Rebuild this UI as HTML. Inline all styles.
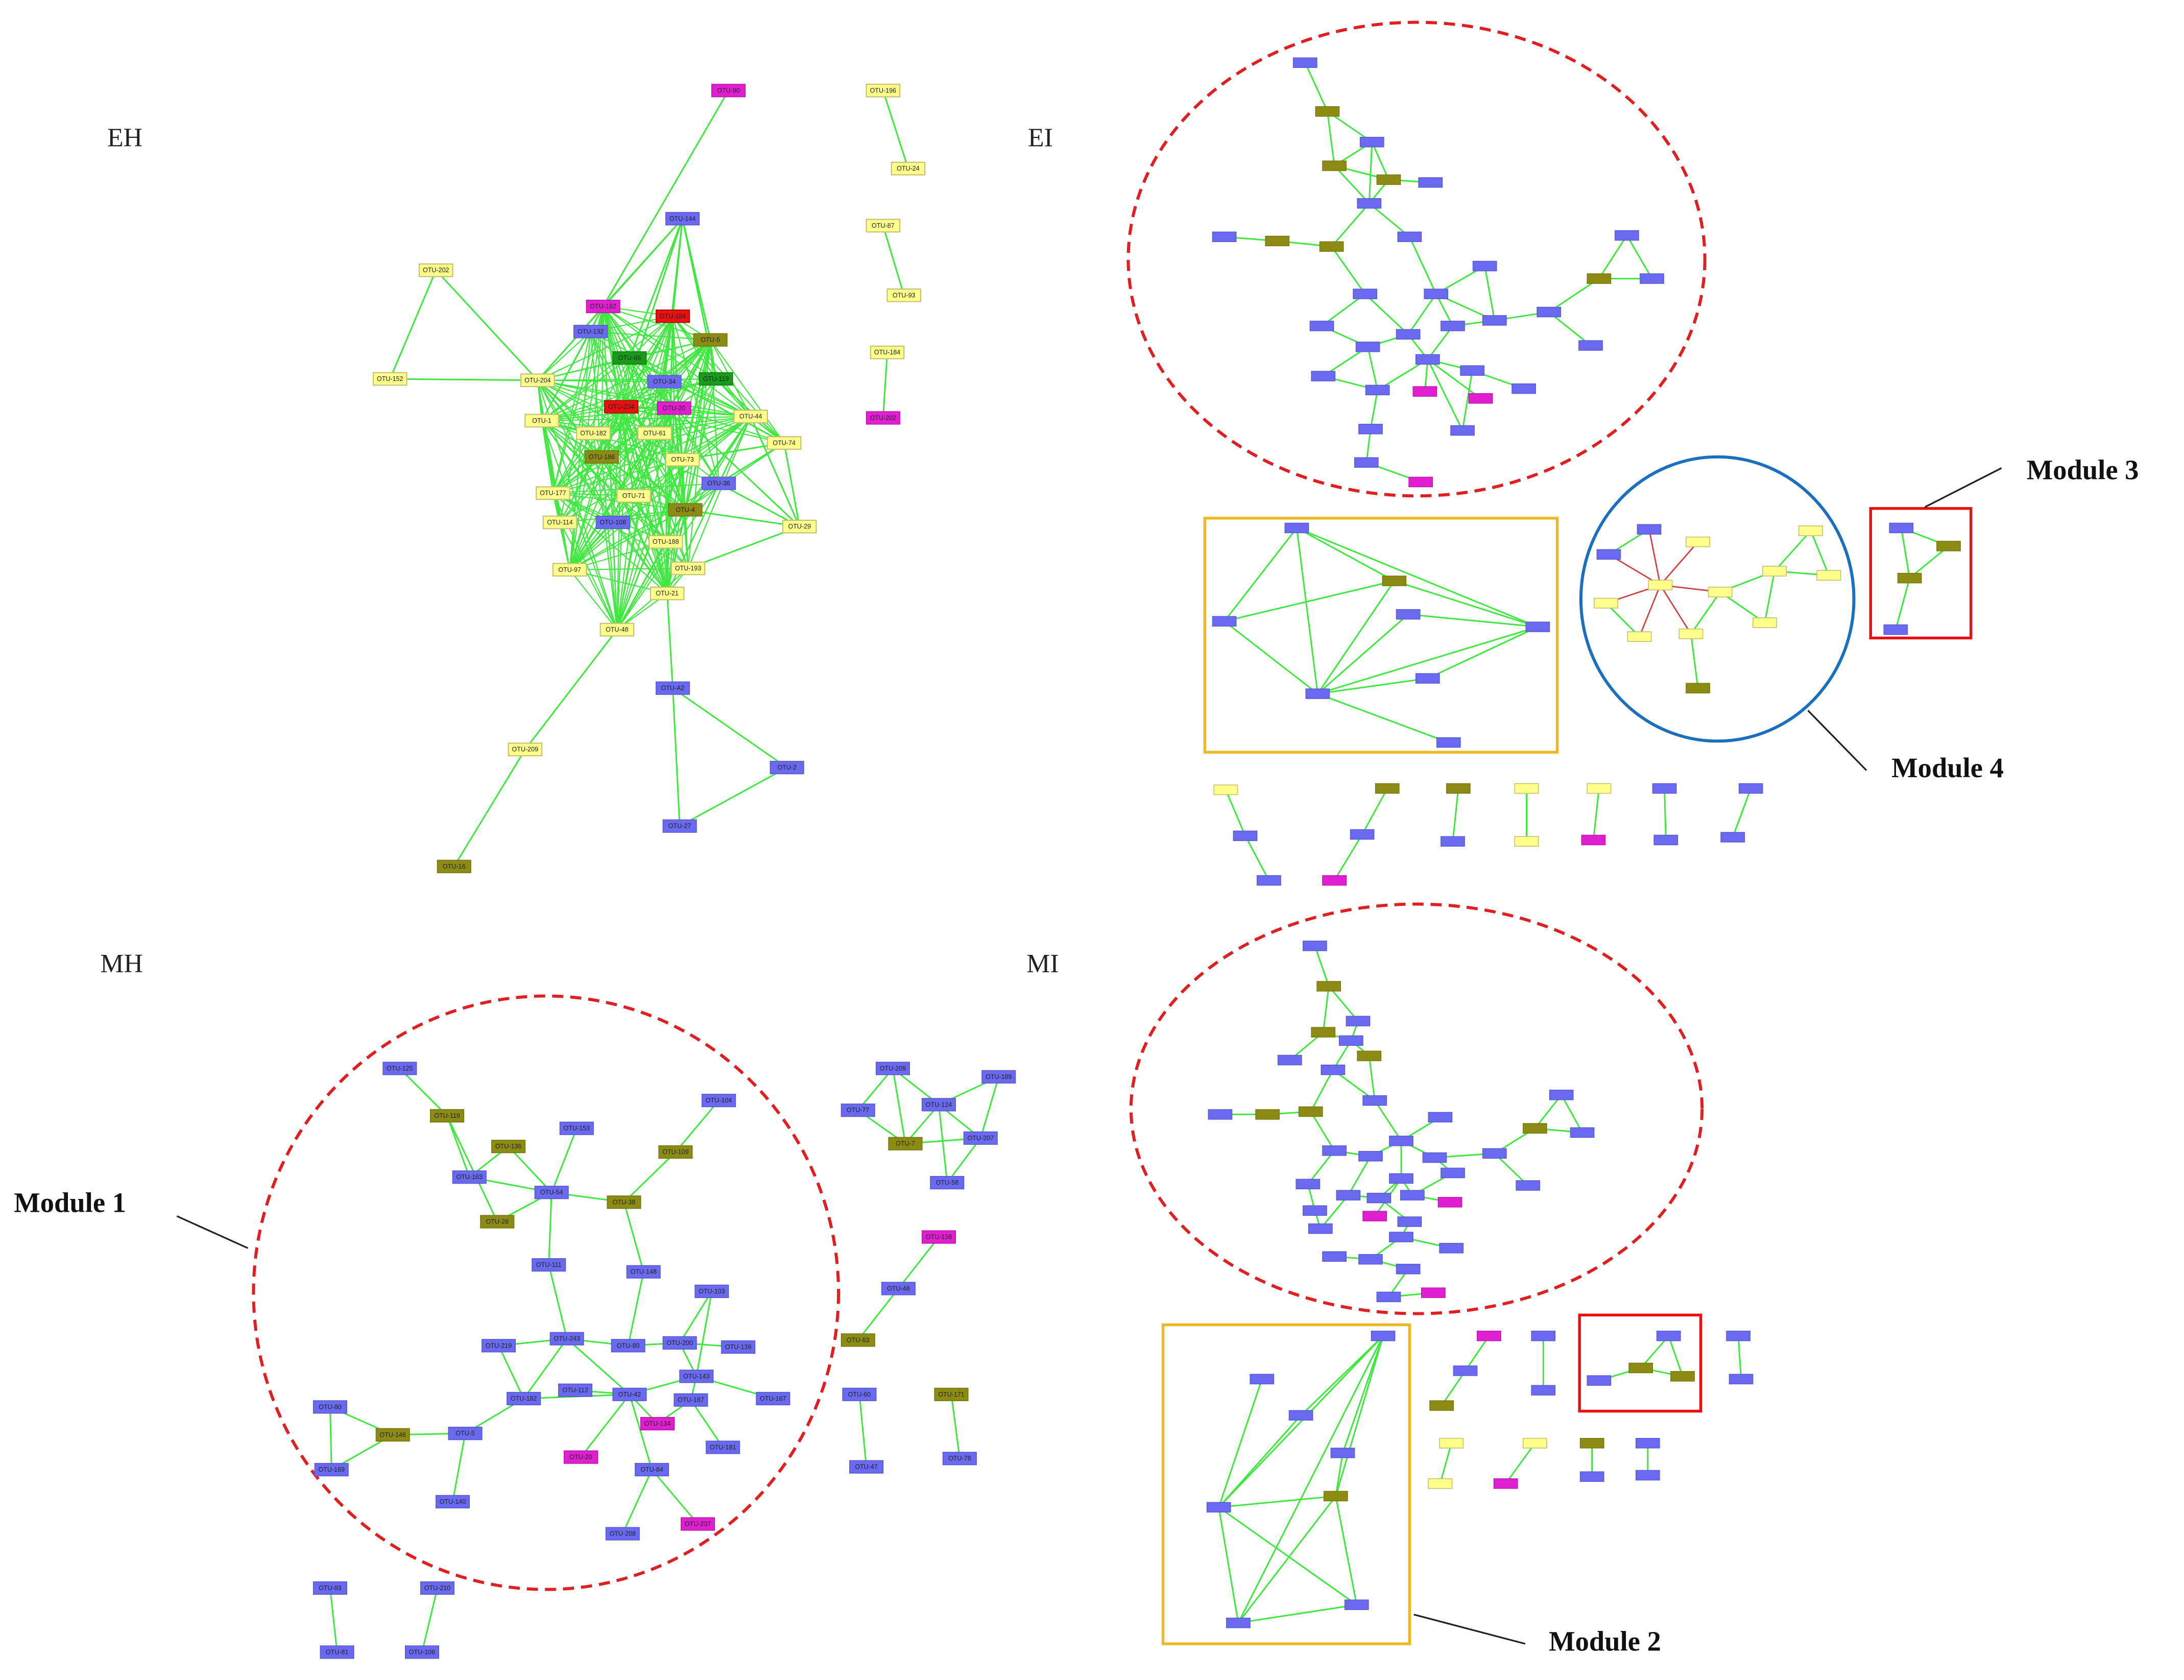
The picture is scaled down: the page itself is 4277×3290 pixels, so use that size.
<!DOCTYPE html>
<html><head><meta charset="utf-8"><style>
html,body{margin:0;padding:0;background:#fff;}
svg{display:block}
.t{font-family:"Liberation Sans",sans-serif;font-size:4.6px;text-anchor:middle;dominant-baseline:central;fill:#222}
.lab{font-family:"Liberation Serif",serif;font-size:19px;fill:#222}
.mod{font-family:"Liberation Serif",serif;font-size:20px;font-weight:bold;fill:#111}
.e{fill:none;stroke:#3ee83e;stroke-width:1.1}
.d{fill:none;stroke:#3ee83e;stroke-width:0.8}
.r{fill:none;stroke:#d04040;stroke-width:1}
</style></head><body>
<svg xmlns="http://www.w3.org/2000/svg" width="4277" height="3290" viewBox="0 0 1568 1206" preserveAspectRatio="none">
<defs>
<rect id="Y" x="-12" y="-4.5" width="24" height="9" fill="#ffff8c" stroke="#c8c070" stroke-width="0.8"/>
<rect id="B" x="-12" y="-4.5" width="24" height="9" fill="#6a6af0" stroke="#5a5ad0" stroke-width="0.6"/>
<rect id="O" x="-12" y="-4.5" width="24" height="9" fill="#8c8c14" stroke="#77770e" stroke-width="0.6"/>
<rect id="M" x="-12" y="-4.5" width="24" height="9" fill="#e020d0" stroke="#c010b0" stroke-width="0.6"/>
<rect id="R" x="-12" y="-4.5" width="24" height="9" fill="#e81010" stroke="#b00000" stroke-width="0.6"/>
<rect id="G" x="-12" y="-4.5" width="24" height="9" fill="#1a9a1a" stroke="#108010" stroke-width="0.6"/>
<rect id="y" x="-8.5" y="-3.5" width="17" height="7" fill="#ffff8c" stroke="#c8c070" stroke-width="0.6"/>
<rect id="b" x="-8.5" y="-3.5" width="17" height="7" fill="#6a6af0" stroke="#5a5ad0" stroke-width="0.5"/>
<rect id="o" x="-8.5" y="-3.5" width="17" height="7" fill="#8c8c14" stroke="#77770e" stroke-width="0.5"/>
<rect id="m" x="-8.5" y="-3.5" width="17" height="7" fill="#e020d0" stroke="#c010b0" stroke-width="0.5"/>
</defs>

<!-- EH dense cluster fans -->
<path class="d" d="M433,220 L483,227 433,220 424,238 433,220 510,244 433,220 452,257 433,220 477,274 433,220 514,272 433,220 386,273 433,220 389,302 433,220 446,292 433,220 484,293 433,220 539,299 433,220 426,311 433,220 470,311 433,220 432,328 433,220 490,330 433,220 516,347 433,220 397,354 433,220 455,356 433,220 492,366 433,220 402,375 433,220 440,375 433,220 478,389 433,220 409,409 433,220 494,408 433,220 479,426 433,220 443,452"/>
<path class="d" d="M483,227 L424,238 483,227 510,244 483,227 452,257 483,227 477,274 483,227 514,272 483,227 386,273 483,227 389,302 483,227 446,292 483,227 484,293 483,227 539,299 483,227 426,311 483,227 470,311 483,227 563,318 483,227 432,328 483,227 490,330 483,227 516,347 483,227 397,354 483,227 455,356 483,227 492,366 483,227 402,375 483,227 440,375 483,227 478,389 483,227 409,409 483,227 494,408 483,227 479,426 483,227 443,452"/>
<path class="d" d="M510,244 L424,238 510,244 452,257 510,244 477,274 510,244 514,272 510,244 386,273 510,244 389,302 510,244 446,292 510,244 484,293 510,244 539,299 510,244 426,311 510,244 470,311 510,244 563,318 510,244 432,328 510,244 490,330 510,244 516,347 510,244 397,354 510,244 455,356 510,244 492,366 510,244 402,375 510,244 440,375 510,244 478,389 510,244 409,409 510,244 494,408 510,244 479,426 510,244 443,452"/>
<path class="d" d="M446,292 L424,238 446,292 452,257 446,292 477,274 446,292 514,272 446,292 386,273 446,292 389,302 446,292 484,293 446,292 539,299 446,292 426,311 446,292 470,311 446,292 563,318 446,292 432,328 446,292 490,330 446,292 516,347 446,292 397,354 446,292 455,356 446,292 492,366 446,292 402,375 446,292 440,375 446,292 478,389 446,292 409,409 446,292 494,408 446,292 479,426 446,292 443,452"/>
<path class="d" d="M484,293 L424,238 484,293 452,257 484,293 477,274 484,293 514,272 484,293 386,273 484,293 389,302 484,293 539,299 484,293 426,311 484,293 470,311 484,293 563,318 484,293 432,328 484,293 490,330 484,293 516,347 484,293 397,354 484,293 455,356 484,293 492,366 484,293 402,375 484,293 440,375 484,293 478,389 484,293 409,409 484,293 494,408 484,293 479,426 484,293 443,452"/>
<path class="d" d="M389,302 L424,238 389,302 452,257 389,302 477,274 389,302 514,272 389,302 386,273 389,302 539,299 389,302 426,311 389,302 470,311 389,302 432,328 389,302 490,330 389,302 516,347 389,302 397,354 389,302 455,356 389,302 492,366 389,302 402,375 389,302 440,375 389,302 478,389 389,302 409,409 389,302 494,408 389,302 479,426 389,302 443,452"/>
<path class="d" d="M539,299 L424,238 539,299 452,257 539,299 477,274 539,299 514,272 539,299 386,273 539,299 426,311 539,299 470,311 539,299 563,318 539,299 432,328 539,299 490,330 539,299 516,347 539,299 397,354 539,299 455,356 539,299 492,366 539,299 402,375 539,299 440,375 539,299 478,389 539,299 409,409 539,299 494,408 539,299 479,426 539,299 443,452"/>
<path class="d" d="M397,354 L424,238 397,354 452,257 397,354 477,274 397,354 514,272 397,354 386,273 397,354 426,311 397,354 470,311 397,354 432,328 397,354 490,330 397,354 516,347 397,354 455,356 397,354 492,366 397,354 402,375 397,354 440,375 397,354 478,389 397,354 409,409 397,354 494,408 397,354 479,426 397,354 443,452"/>
<path class="d" d="M492,366 L424,238 492,366 452,257 492,366 477,274 492,366 514,272 492,366 386,273 492,366 426,311 492,366 470,311 492,366 563,318 492,366 432,328 492,366 490,330 492,366 516,347 492,366 455,356 492,366 402,375 492,366 440,375 492,366 478,389 492,366 409,409 492,366 494,408 492,366 479,426 492,366 443,452"/>
<path class="d" d="M443,452 L424,238 443,452 452,257 443,452 477,274 443,452 514,272 443,452 386,273 443,452 426,311 443,452 470,311 443,452 432,328 443,452 490,330 443,452 516,347 443,452 455,356 443,452 402,375 443,452 440,375 443,452 478,389 443,452 409,409 443,452 494,408 443,452 479,426"/>
<path class="d" d="M386,273 L424,238 386,273 452,257 386,273 477,274 386,273 514,272 386,273 426,311 386,273 470,311 386,273 432,328 386,273 490,330 386,273 455,356 386,273 402,375 386,273 440,375 386,273 478,389 386,273 409,409 386,273 494,408 386,273 479,426"/>
<path class="d" d="M409,409 L424,238 409,409 452,257 409,409 477,274 409,409 514,272 409,409 426,311 409,409 470,311 409,409 432,328 409,409 490,330 409,409 516,347 409,409 455,356 409,409 440,375 409,409 478,389 409,409 494,408 409,409 479,426"/>
<path class="d" d="M479,426 L424,238 479,426 452,257 479,426 477,274 479,426 514,272 479,426 426,311 479,426 470,311 479,426 432,328 479,426 490,330 479,426 516,347 479,426 455,356 479,426 440,375 479,426 478,389 479,426 494,408"/>

<!-- EH other edges -->
<path class="e" d="M313,194 L280,272 386,273 313,194 M634,65 L652,121 M634,162 L649,212 M637,253 L634,300
M523,65 L433,220 M490,157 L433,220 M490,157 L483,227 M490,157 L510,244 M490,157 L452,257 M490,157 L477,274 M490,157 L386,273 M490,157 L514,272 M490,157 L446,292
M574,378 L516,347 M574,378 L539,299 M574,378 L563,318 M574,378 L492,366 M574,378 L494,408 M574,378 L484,293
M563,318 L539,299 M563,318 L514,272 M563,318 L516,347 M563,318 L490,330 M563,318 L452,257
M443,452 L377,538 326,622 M483,494 L479,426 M483,494 L565,551 488,593 483,494"/>

<!-- EI edges -->
<path class="e" d="M937,45 L953,80 985,102 M953,80 L958,119 985,102 997,129 958,119 983,146 997,129 1027,131 M985,102 L983,146
M983,146 L956,177 917,173 879,170 M983,146 L1012,170 1031,211 M956,177 L980,211 949,234 982,249 950,270 989,280 M980,211 L1011,240
M1031,211 L1073,230 1066,191 1031,211 M1073,230 L1112,224 1148,200 1168,169 1186,200 1148,200 M1112,224 L1142,248
M1031,211 L1043,234 1073,230 M1031,211 L1011,240 1025,258 1057,266 1094,279 M1025,258 L1023,281 M1025,258 L1063,286 M1057,266 L1050,309 1025,258 M989,280 L1025,258 M982,249 L1011,240 M982,249 L989,280 984,308 981,332 1020,346 M1043,234 L1025,258"/>
<path class="e" d="M931,379 L879,446 946,498 931,379 1001,417 879,446 M931,379 L1104,450 1001,417 946,498 1104,450 M1011,441 L946,498 M1011,441 L1104,450 M1025,487 L1104,450 M946,498 L1025,487 M946,498 L1040,533"/>
<path class="r" d="M1192,420 L1184,380 M1192,420 L1219,389 M1192,420 L1155,398 M1192,420 L1235,425 M1192,420 L1153,433 M1192,420 L1177,457 M1192,420 L1214,455"/>
<path class="e" d="M1184,380 L1155,398 M1153,433 L1177,457 M1235,425 L1274,410 1300,381 1313,413 1274,410 1267,447 1235,425 M1235,425 L1214,455 1219,494"/>
<path class="e" d="M1365,379 L1399,392 1371,415 1365,379 M1371,415 L1361,452"/>
<path class="e" d="M880,567 L894,600 911,632 M996,566 L978,599 958,632 M1047,566 L1043,604 M1096,566 L1096,604 M1148,566 L1144,603 M1195,566 L1196,603 M1257,566 L1244,601"/>

<!-- MI edges -->
<path class="e" d="M944,679 L954,708 975,733 970,747 950,741 954,708 M950,741 L926,761 M970,747 L957,768 987,790 983,758 970,747 M957,768 L941,798 910,800 876,800 M941,798 L958,826
M987,790 L1006,819 1034,802 M1006,819 L984,830 958,826 939,850 944,869 948,882 968,858 990,860 1006,846 1014,858 1041,863 M1006,819 L1030,831 1073,828 1102,810 1121,786 1136,813 1102,810 M1073,828 L1097,851 M1030,831 L1043,842 1014,858 M1006,819 L1006,846 987,873 M990,860 L1012,877 1006,888 1042,896 M1006,888 L984,904 958,902 M984,904 L1011,911 997,931 1029,928 M984,830 L968,858"/>
<path class="e" d="M993,959 L875,1082 M993,959 L934,1016 M993,959 L964,1043 959,1074 993,959 889,1165 M906,990 L875,1082 959,1074 889,1165 875,1082 974,1152 959,1074 M934,1016 L875,1082 M889,1165 L974,1152"/>
<path class="e" d="M1198,959 L1178,982 1208,988 1198,959 M1178,982 L1148,991"/>
<path class="e" d="M1069,959 L1052,984 1035,1009 M1108,959 L1108,998 M1248,959 L1250,990 M1042,1036 L1034,1065 M1102,1036 L1081,1065 M1143,1036 L1143,1060 M1183,1036 L1183,1059"/>

<!-- MH edges -->
<path class="e" d="M287,767 L321,801 337,845 396,856 M321,801 L357,877 396,856 M365,823 L337,845 M365,823 L396,856 414,810 M396,856 L448,863 485,827 516,790 M448,863 L462,913 451,966 M396,856 L394,908 407,961 358,966 376,1004 334,1029 282,1030 237,1010 238,1055 282,1030 M407,961 L376,1004 M407,961 L451,966 488,964 511,927 500,988 452,1001 407,961 M488,964 L530,967 M488,964 L500,988 555,1004 M500,988 L496,1005 472,1022 452,1001 413,998 M452,1001 L376,1004 M452,1001 L417,1046 M452,1001 L468,1055 447,1101 M468,1055 L501,1094 M496,1005 L519,1039 M334,1029 L325,1078 M237,1140 L242,1186 M314,1140 L303,1186
M641,767 L616,797 650,821 641,767 674,793 650,821 704,817 674,793 717,773 704,817 680,849 674,793 M674,888 L645,925 616,962 M617,1001 L622,1053 M683,1001 L689,1047"/>

<!-- frames -->
<ellipse cx="1017" cy="186" rx="207" ry="170" fill="none" stroke="#e02020" stroke-width="2.2" stroke-dasharray="8,5"/>
<ellipse cx="1017" cy="796" rx="205" ry="147" fill="none" stroke="#e02020" stroke-width="2.2" stroke-dasharray="8,5"/>
<ellipse cx="392" cy="928" rx="210" ry="213" fill="none" stroke="#e02020" stroke-width="2.2" stroke-dasharray="8,5"/>
<ellipse cx="1233" cy="430" rx="98" ry="102" fill="none" stroke="#1a6fbf" stroke-width="2.2"/>
<rect x="865" y="372" width="253" height="168" fill="none" stroke="#f0b820" stroke-width="2"/>
<rect x="835" y="951" width="177" height="229" fill="none" stroke="#f0b820" stroke-width="2"/>
<rect x="1343" y="365" width="72" height="93" fill="none" stroke="#e81010" stroke-width="2"/>
<rect x="1134" y="944" width="87" height="69" fill="none" stroke="#e81010" stroke-width="2"/>
<line x1="1382" y1="364" x2="1437" y2="336" stroke="#222" stroke-width="1.2"/>
<line x1="1298" y1="510" x2="1340" y2="553" stroke="#222" stroke-width="1.2"/>
<line x1="1015" y1="1159" x2="1095" y2="1180" stroke="#222" stroke-width="1.2"/>
<line x1="127" y1="873" x2="178" y2="896" stroke="#222" stroke-width="1.2"/>
<text class="mod" x="1455" y="344">Module 3</text>
<text class="mod" x="1358" y="558">Module 4</text>
<text class="mod" x="1112" y="1185">Module 2</text>
<text class="mod" x="10" y="870">Module 1</text>
<text class="lab" x="77" y="105">EH</text>
<text class="lab" x="738" y="105">EI</text>
<text class="lab" x="72" y="698">MH</text>
<text class="lab" x="737" y="698">MI</text>

<!-- EH nodes -->
<use href="#M" x="523" y="65"/><text class="t" x="523" y="65">OTU-90</text>
<use href="#Y" x="634" y="65"/><text class="t" x="634" y="65">OTU-196</text>
<use href="#Y" x="652" y="121"/><text class="t" x="652" y="121">OTU-24</text>
<use href="#Y" x="634" y="162"/><text class="t" x="634" y="162">OTU-87</text>
<use href="#Y" x="649" y="212"/><text class="t" x="649" y="212">OTU-93</text>
<use href="#Y" x="637" y="253"/><text class="t" x="637" y="253">OTU-184</text>
<use href="#M" x="634" y="300"/><text class="t" x="634" y="300">OTU-202</text>
<use href="#B" x="490" y="157"/><text class="t" x="490" y="157">OTU-144</text>
<use href="#Y" x="313" y="194"/><text class="t" x="313" y="194">OTU-202</text>
<use href="#Y" x="280" y="272"/><text class="t" x="280" y="272">OTU-152</text>
<use href="#Y" x="386" y="273"/><text class="t" x="386" y="273">OTU-204</text>
<use href="#Y" x="389" y="302"/><text class="t" x="389" y="302">OTU-1</text>
<use href="#M" x="433" y="220"/><text class="t" x="433" y="220">OTU-162</text>
<use href="#R" x="483" y="227"/><text class="t" x="483" y="227">OTU-184</text>
<use href="#B" x="424" y="238"/><text class="t" x="424" y="238">OTU-132</text>
<use href="#O" x="510" y="244"/><text class="t" x="510" y="244">OTU-5</text>
<use href="#G" x="452" y="257"/><text class="t" x="452" y="257">OTU-66</text>
<use href="#B" x="477" y="274"/><text class="t" x="477" y="274">OTU-34</text>
<use href="#G" x="514" y="272"/><text class="t" x="514" y="272">OTU-119</text>
<use href="#R" x="446" y="292"/><text class="t" x="446" y="292">OTU-204</text>
<use href="#M" x="484" y="293"/><text class="t" x="484" y="293">OTU-20</text>
<use href="#Y" x="539" y="299"/><text class="t" x="539" y="299">OTU-44</text>
<use href="#Y" x="426" y="311"/><text class="t" x="426" y="311">OTU-182</text>
<use href="#Y" x="470" y="311"/><text class="t" x="470" y="311">OTU-61</text>
<use href="#Y" x="563" y="318"/><text class="t" x="563" y="318">OTU-74</text>
<use href="#O" x="432" y="328"/><text class="t" x="432" y="328">OTU-186</text>
<use href="#Y" x="490" y="330"/><text class="t" x="490" y="330">OTU-73</text>
<use href="#B" x="516" y="347"/><text class="t" x="516" y="347">OTU-36</text>
<use href="#Y" x="397" y="354"/><text class="t" x="397" y="354">OTU-177</text>
<use href="#Y" x="455" y="356"/><text class="t" x="455" y="356">OTU-71</text>
<use href="#O" x="492" y="366"/><text class="t" x="492" y="366">OTU-4</text>
<use href="#Y" x="402" y="375"/><text class="t" x="402" y="375">OTU-114</text>
<use href="#B" x="440" y="375"/><text class="t" x="440" y="375">OTU-108</text>
<use href="#Y" x="574" y="378"/><text class="t" x="574" y="378">OTU-29</text>
<use href="#Y" x="478" y="389"/><text class="t" x="478" y="389">OTU-188</text>
<use href="#Y" x="409" y="409"/><text class="t" x="409" y="409">OTU-97</text>
<use href="#Y" x="494" y="408"/><text class="t" x="494" y="408">OTU-193</text>
<use href="#Y" x="479" y="426"/><text class="t" x="479" y="426">OTU-21</text>
<use href="#Y" x="443" y="452"/><text class="t" x="443" y="452">OTU-48</text>
<use href="#B" x="483" y="494"/><text class="t" x="483" y="494">OTU-A2</text>
<use href="#B" x="565" y="551"/><text class="t" x="565" y="551">OTU-2</text>
<use href="#B" x="488" y="593"/><text class="t" x="488" y="593">OTU-27</text>
<use href="#Y" x="377" y="538"/><text class="t" x="377" y="538">OTU-209</text>
<use href="#O" x="326" y="622"/><text class="t" x="326" y="622">OTU-16</text>

<!-- MH nodes -->
<use href="#B" x="287" y="767"/><text class="t" x="287" y="767">OTU-125</text>
<use href="#O" x="321" y="801"/><text class="t" x="321" y="801">OTU-119</text>
<use href="#O" x="365" y="823"/><text class="t" x="365" y="823">OTU-136</text>
<use href="#B" x="414" y="810"/><text class="t" x="414" y="810">OTU-153</text>
<use href="#B" x="337" y="845"/><text class="t" x="337" y="845">OTU-163</text>
<use href="#B" x="396" y="856"/><text class="t" x="396" y="856">OTU-54</text>
<use href="#O" x="448" y="863"/><text class="t" x="448" y="863">OTU-38</text>
<use href="#O" x="357" y="877"/><text class="t" x="357" y="877">OTU-26</text>
<use href="#B" x="516" y="790"/><text class="t" x="516" y="790">OTU-104</text>
<use href="#O" x="485" y="827"/><text class="t" x="485" y="827">OTU-109</text>
<use href="#B" x="394" y="908"/><text class="t" x="394" y="908">OTU-111</text>
<use href="#B" x="462" y="913"/><text class="t" x="462" y="913">OTU-148</text>
<use href="#B" x="511" y="927"/><text class="t" x="511" y="927">OTU-103</text>
<use href="#B" x="358" y="966"/><text class="t" x="358" y="966">OTU-219</text>
<use href="#B" x="407" y="961"/><text class="t" x="407" y="961">OTU-243</text>
<use href="#B" x="451" y="966"/><text class="t" x="451" y="966">OTU-80</text>
<use href="#B" x="488" y="964"/><text class="t" x="488" y="964">OTU-200</text>
<use href="#B" x="530" y="967"/><text class="t" x="530" y="967">OTU-139</text>
<use href="#B" x="500" y="988"/><text class="t" x="500" y="988">OTU-143</text>
<use href="#B" x="413" y="998"/><text class="t" x="413" y="998">OTU-112</text>
<use href="#B" x="452" y="1001"/><text class="t" x="452" y="1001">OTU-42</text>
<use href="#B" x="376" y="1004"/><text class="t" x="376" y="1004">OTU-182</text>
<use href="#B" x="496" y="1005"/><text class="t" x="496" y="1005">OTU-187</text>
<use href="#B" x="555" y="1004"/><text class="t" x="555" y="1004">OTU-167</text>
<use href="#M" x="472" y="1022"/><text class="t" x="472" y="1022">OTU-134</text>
<use href="#B" x="519" y="1039"/><text class="t" x="519" y="1039">OTU-181</text>
<use href="#M" x="417" y="1046"/><text class="t" x="417" y="1046">OTU-20</text>
<use href="#B" x="468" y="1055"/><text class="t" x="468" y="1055">OTU-84</text>
<use href="#B" x="447" y="1101"/><text class="t" x="447" y="1101">OTU-208</text>
<use href="#M" x="501" y="1094"/><text class="t" x="501" y="1094">OTU-207</text>
<use href="#B" x="237" y="1010"/><text class="t" x="237" y="1010">OTU-80</text>
<use href="#O" x="282" y="1030"/><text class="t" x="282" y="1030">OTU-146</text>
<use href="#B" x="334" y="1029"/><text class="t" x="334" y="1029">OTU-5</text>
<use href="#B" x="238" y="1055"/><text class="t" x="238" y="1055">OTU-169</text>
<use href="#B" x="325" y="1078"/><text class="t" x="325" y="1078">OTU-140</text>
<use href="#B" x="237" y="1140"/><text class="t" x="237" y="1140">OTU-93</text>
<use href="#B" x="242" y="1186"/><text class="t" x="242" y="1186">OTU-81</text>
<use href="#B" x="314" y="1140"/><text class="t" x="314" y="1140">OTU-210</text>
<use href="#B" x="303" y="1186"/><text class="t" x="303" y="1186">OTU-106</text>
<use href="#B" x="641" y="767"/><text class="t" x="641" y="767">OTU-209</text>
<use href="#B" x="616" y="797"/><text class="t" x="616" y="797">OTU-77</text>
<use href="#B" x="674" y="793"/><text class="t" x="674" y="793">OTU-124</text>
<use href="#B" x="717" y="773"/><text class="t" x="717" y="773">OTU-189</text>
<use href="#O" x="650" y="821"/><text class="t" x="650" y="821">OTU-7</text>
<use href="#B" x="704" y="817"/><text class="t" x="704" y="817">OTU-207</text>
<use href="#B" x="680" y="849"/><text class="t" x="680" y="849">OTU-58</text>
<use href="#M" x="674" y="888"/><text class="t" x="674" y="888">OTU-158</text>
<use href="#B" x="645" y="925"/><text class="t" x="645" y="925">OTU-48</text>
<use href="#O" x="616" y="962"/><text class="t" x="616" y="962">OTU-63</text>
<use href="#B" x="617" y="1001"/><text class="t" x="617" y="1001">OTU-60</text>
<use href="#B" x="622" y="1053"/><text class="t" x="622" y="1053">OTU-47</text>
<use href="#O" x="683" y="1001"/><text class="t" x="683" y="1001">OTU-171</text>
<use href="#B" x="689" y="1047"/><text class="t" x="689" y="1047">OTU-78</text>

<!-- EI small nodes -->
<use href="#b" x="937" y="45"/><use href="#o" x="953" y="80"/><use href="#b" x="985" y="102"/><use href="#o" x="958" y="119"/><use href="#o" x="997" y="129"/><use href="#b" x="1027" y="131"/><use href="#b" x="983" y="146"/><use href="#o" x="956" y="177"/><use href="#b" x="1012" y="170"/><use href="#o" x="917" y="173"/><use href="#b" x="879" y="170"/><use href="#b" x="1066" y="191"/><use href="#b" x="1168" y="169"/><use href="#b" x="1186" y="200"/><use href="#o" x="1148" y="200"/><use href="#b" x="1112" y="224"/><use href="#b" x="1142" y="248"/><use href="#b" x="980" y="211"/><use href="#b" x="1031" y="211"/><use href="#b" x="1073" y="230"/><use href="#b" x="1043" y="234"/><use href="#b" x="1011" y="240"/><use href="#b" x="949" y="234"/><use href="#b" x="982" y="249"/><use href="#b" x="1025" y="258"/><use href="#b" x="1057" y="266"/><use href="#b" x="950" y="270"/><use href="#b" x="989" y="280"/><use href="#m" x="1023" y="281"/><use href="#m" x="1063" y="286"/><use href="#b" x="1094" y="279"/><use href="#b" x="1050" y="309"/><use href="#b" x="984" y="308"/><use href="#b" x="981" y="332"/><use href="#m" x="1020" y="346"/>
<use href="#b" x="931" y="379"/><use href="#o" x="1001" y="417"/><use href="#b" x="1011" y="441"/><use href="#b" x="879" y="446"/><use href="#b" x="1104" y="450"/><use href="#b" x="1025" y="487"/><use href="#b" x="946" y="498"/><use href="#b" x="1040" y="533"/>
<use href="#b" x="1184" y="380"/><use href="#b" x="1155" y="398"/><use href="#y" x="1219" y="389"/><use href="#y" x="1192" y="420"/><use href="#y" x="1235" y="425"/><use href="#y" x="1274" y="410"/><use href="#y" x="1300" y="381"/><use href="#y" x="1313" y="413"/><use href="#y" x="1153" y="433"/><use href="#y" x="1177" y="457"/><use href="#y" x="1214" y="455"/><use href="#y" x="1267" y="447"/><use href="#o" x="1219" y="494"/>
<use href="#b" x="1365" y="379"/><use href="#o" x="1399" y="392"/><use href="#o" x="1371" y="415"/><use href="#b" x="1361" y="452"/>
<use href="#y" x="880" y="567"/><use href="#b" x="894" y="600"/><use href="#b" x="911" y="632"/><use href="#o" x="996" y="566"/><use href="#b" x="978" y="599"/><use href="#m" x="958" y="632"/><use href="#o" x="1047" y="566"/><use href="#b" x="1043" y="604"/><use href="#y" x="1096" y="566"/><use href="#y" x="1096" y="604"/><use href="#y" x="1148" y="566"/><use href="#m" x="1144" y="603"/><use href="#b" x="1195" y="566"/><use href="#b" x="1196" y="603"/><use href="#b" x="1257" y="566"/><use href="#b" x="1244" y="601"/>

<!-- MI small nodes -->
<use href="#b" x="944" y="679"/><use href="#o" x="954" y="708"/><use href="#b" x="975" y="733"/><use href="#o" x="950" y="741"/><use href="#b" x="970" y="747"/><use href="#b" x="926" y="761"/><use href="#b" x="957" y="768"/><use href="#o" x="983" y="758"/><use href="#b" x="987" y="790"/><use href="#o" x="941" y="798"/><use href="#o" x="910" y="800"/><use href="#b" x="876" y="800"/><use href="#b" x="958" y="826"/><use href="#b" x="1034" y="802"/><use href="#b" x="1006" y="819"/><use href="#b" x="984" y="830"/><use href="#b" x="1030" y="831"/><use href="#b" x="1073" y="828"/><use href="#o" x="1102" y="810"/><use href="#b" x="1121" y="786"/><use href="#b" x="1136" y="813"/><use href="#b" x="1097" y="851"/><use href="#b" x="1043" y="842"/><use href="#b" x="1006" y="846"/><use href="#b" x="939" y="850"/><use href="#b" x="968" y="858"/><use href="#b" x="990" y="860"/><use href="#b" x="1014" y="858"/><use href="#m" x="1041" y="863"/><use href="#b" x="944" y="869"/><use href="#m" x="987" y="873"/><use href="#b" x="1012" y="877"/><use href="#b" x="948" y="882"/><use href="#b" x="1006" y="888"/><use href="#b" x="1042" y="896"/><use href="#b" x="958" y="902"/><use href="#b" x="984" y="904"/><use href="#b" x="1011" y="911"/><use href="#b" x="997" y="931"/><use href="#m" x="1029" y="928"/>
<use href="#b" x="993" y="959"/><use href="#b" x="906" y="990"/><use href="#b" x="934" y="1016"/><use href="#b" x="964" y="1043"/><use href="#o" x="959" y="1074"/><use href="#b" x="875" y="1082"/><use href="#b" x="974" y="1152"/><use href="#b" x="889" y="1165"/>
<use href="#b" x="1198" y="959"/><use href="#o" x="1178" y="982"/><use href="#b" x="1148" y="991"/><use href="#o" x="1208" y="988"/>
<use href="#m" x="1069" y="959"/><use href="#b" x="1052" y="984"/><use href="#o" x="1035" y="1009"/><use href="#b" x="1108" y="959"/><use href="#b" x="1108" y="998"/><use href="#b" x="1248" y="959"/><use href="#b" x="1250" y="990"/><use href="#y" x="1042" y="1036"/><use href="#y" x="1034" y="1065"/><use href="#y" x="1102" y="1036"/><use href="#m" x="1081" y="1065"/><use href="#o" x="1143" y="1036"/><use href="#b" x="1143" y="1060"/><use href="#b" x="1183" y="1036"/><use href="#b" x="1183" y="1059"/>
</svg>
</body></html>
